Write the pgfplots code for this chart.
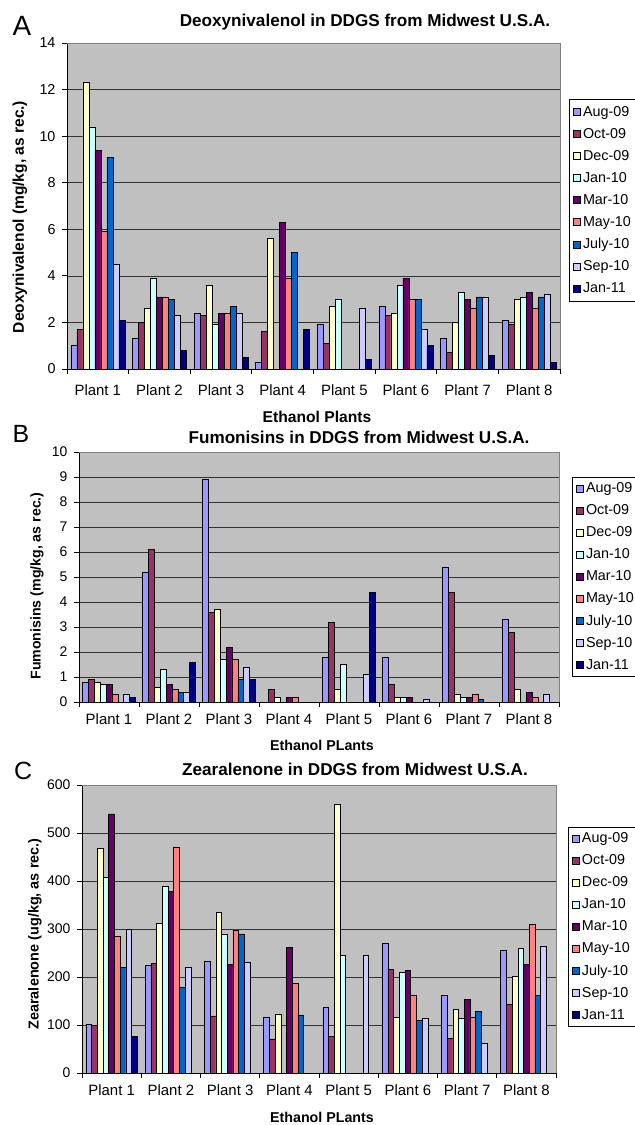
\documentclass[border=0pt]{standalone}
\usepackage{pgfplots}
\pgfplotsset{compat=1.18}
\usepackage{fontspec}
\setmainfont{Liberation Sans}
\definecolor{s1}{HTML}{9999FF}
\definecolor{s2}{HTML}{993366}
\definecolor{s3}{HTML}{FFFFCC}
\definecolor{s4}{HTML}{CCFFFF}
\definecolor{s5}{HTML}{660066}
\definecolor{s6}{HTML}{FF8080}
\definecolor{s7}{HTML}{0066CC}
\definecolor{s8}{HTML}{CCCCFF}
\definecolor{s9}{HTML}{000080}
\definecolor{plotbg}{HTML}{C0C0C0}
\pgfplotsset{
 panel/.style={
  scale only axis, anchor=north west,
  xmin=-0.5, xmax=7.5, ymin=0,
  ybar=0pt,
  axis background/.style={fill=plotbg},
  axis x line*=bottom, axis y line*=left,
  axis line style={black, line width=0.8pt, -},
  ymajorgrids, grid style={black!80, line width=0.7pt},
  xtick={-0.5,0.5,...,7.5}, xticklabels={},
  extra x ticks={0,1,...,7},
  extra x tick labels={Plant 1,Plant 2,Plant 3,Plant 4,Plant 5,Plant 6,Plant 7,Plant 8},
  tick align=outside, major tick length=5bp,
  tick style={black, line width=0.8pt},
  xticklabel style={font=\fontsize{15}{17}\selectfont},
  yticklabel style={font=\fontsize{14.4}{16}\selectfont, xshift=-3bp},
  /pgf/number format/assume math mode=true,
  every axis plot/.append style={draw=black, line width=0.6pt},
  legend cell align=left,
  legend image code/.code={\draw[##1] (0bp,-3.5bp) rectangle (7bp,3.5bp);},
  legend style={anchor=north west, draw=black, line width=0.8pt, font=\fontsize{14.4}{16}\selectfont, inner xsep=4bp, inner ysep=5bp, row sep=6.5bp},
  after end axis/.code={\draw[black!50, line width=1pt] (rel axis cs:0,1) -- (rel axis cs:1,1) -- (rel axis cs:1,0);},
 }
}
\begin{document}
\begin{tikzpicture}
\path[use as bounding box] (0,0) rectangle (635bp,-1125bp);
% ---------------- Panel A
\begin{axis}[panel, at={(67bp,-43bp)}, width=493bp, height=326bp,
  ymax=14, ytick={0,2,...,14}, bar width=6bp,
  extra x tick style={major tick length=0pt, xticklabel style={yshift=-12bp}},
  legend style={at={(1.0183,0.8282)}}]
\addplot[fill=s1] coordinates {(0,1.0)(1,1.3)(2,2.4)(3,0.3)(4,1.9)(5,2.7)(6,1.3)(7,2.1)};
\addplot[fill=s2] coordinates {(0,1.7)(1,2.0)(2,2.3)(3,1.6)(4,1.1)(5,2.3)(6,0.7)(7,1.9)};
\addplot[fill=s3] coordinates {(0,12.3)(1,2.6)(2,3.6)(3,5.6)(4,2.7)(5,2.4)(6,2.0)(7,3.0)};
\addplot[fill=s4] coordinates {(0,10.4)(1,3.9)(2,1.9)(4,3.0)(5,3.6)(6,3.3)(7,3.1)};
\addplot[fill=s5] coordinates {(0,9.4)(1,3.1)(2,2.4)(3,6.3)(5,3.9)(6,3.0)(7,3.3)};
\addplot[fill=s6] coordinates {(0,5.9)(1,3.1)(2,2.4)(3,3.9)(5,3.0)(6,2.6)(7,2.6)};
\addplot[fill=s7] coordinates {(0,9.1)(1,3.0)(2,2.7)(3,5.0)(5,3.0)(6,3.1)(7,3.1)};
\addplot[fill=s8] coordinates {(0,4.5)(1,2.3)(2,2.4)(4,2.6)(5,1.7)(6,3.1)(7,3.2)};
\addplot[fill=s9] coordinates {(0,2.1)(1,0.8)(2,0.5)(3,1.7)(4,0.4)(5,1.0)(6,0.6)(7,0.3)};
\legend{Aug-09,Oct-09,Dec-09,Jan-10,Mar-10,May-10,July-10,Sep-10,Jan-11}
\end{axis}
% ---------------- Panel B
\begin{axis}[panel, at={(79bp,-452bp)}, width=480bp, height=250bp,
  ymax=10, ytick={0,1,...,10}, bar width=5.9bp,
  yticklabel style={font=\fontsize{14}{16}\selectfont},
  extra x tick style={major tick length=0pt, xticklabel style={yshift=-8bp}},
  legend style={at={(1.0271,0.9)}, inner ysep=3.5bp}]
\addplot[fill=s1] coordinates {(0,0.8)(1,5.2)(2,8.9)(4,1.8)(5,1.8)(6,5.4)(7,3.3)};
\addplot[fill=s2] coordinates {(0,0.9)(1,6.1)(2,3.6)(3,0.5)(4,3.2)(5,0.7)(6,4.4)(7,2.8)};
\addplot[fill=s3] coordinates {(0,0.8)(1,0.6)(2,3.7)(3,0.2)(4,0.5)(5,0.2)(6,0.3)(7,0.5)};
\addplot[fill=s4] coordinates {(0,0.7)(1,1.3)(2,1.7)(4,1.5)(5,0.2)(6,0.2)};
\addplot[fill=s5] coordinates {(0,0.7)(1,0.7)(2,2.2)(3,0.2)(5,0.2)(6,0.2)(7,0.4)};
\addplot[fill=s6] coordinates {(0,0.3)(1,0.5)(2,1.7)(3,0.2)(6,0.3)(7,0.2)};
\addplot[fill=s7] coordinates {(1,0.4)(2,0.9)(6,0.1)};
\addplot[fill=s8] coordinates {(0,0.3)(1,0.4)(2,1.4)(4,1.1)(5,0.1)(7,0.3)};
\addplot[fill=s9] coordinates {(0,0.2)(1,1.6)(2,0.9)(4,4.4)};
\legend{Aug-09,Oct-09,Dec-09,Jan-10,Mar-10,May-10,July-10,Sep-10,Jan-11}
\end{axis}
% ---------------- Panel C
\begin{axis}[panel, at={(82bp,-785bp)}, width=474bp, height=288bp,
  ymax=600, ytick={0,100,...,600}, bar width=5.7bp,
  yticklabel style={font=\fontsize{14}{16}\selectfont},
  extra x tick style={major tick length=0pt, xticklabel style={yshift=-8bp}},
  legend style={at={(1.0253,0.8542)}, inner ysep=3.5bp}]
\addplot[fill=s1] coordinates {(0,102)(1,225)(2,233)(3,117)(4,136)(5,270)(6,162)(7,256)};
\addplot[fill=s2] coordinates {(0,100)(1,229)(2,119)(3,71)(4,76)(5,216)(6,72)(7,143)};
\addplot[fill=s3] coordinates {(0,468)(1,312)(2,335)(3,123)(4,560)(5,116)(6,133)(7,201)};
\addplot[fill=s4] coordinates {(0,407)(1,389)(2,290)(4,245)(5,209)(6,114)(7,260)};
\addplot[fill=s5] coordinates {(0,540)(1,378)(2,226)(3,262)(5,213)(6,153)(7,227)};
\addplot[fill=s6] coordinates {(0,285)(1,471)(2,298)(3,186)(5,162)(6,117)(7,309)};
\addplot[fill=s7] coordinates {(0,220)(1,178)(2,290)(3,120)(5,109)(6,129)(7,161)};
\addplot[fill=s8] coordinates {(0,299)(1,221)(2,230)(4,245)(5,113)(6,61)(7,263)};
\addplot[fill=s9] coordinates {(0,76)};
\legend{Aug-09,Oct-09,Dec-09,Jan-10,Mar-10,May-10,July-10,Sep-10,Jan-11}
\end{axis}
% ---------------- Texts
\node[font=\fontsize{28}{30}\selectfont] at (22bp,-26bp) {A};
\node[font=\fontsize{25}{28}\selectfont] at (21bp,-434bp) {B};
\node[font=\fontsize{25}{28}\selectfont] at (23bp,-771bp) {C};
\node[font=\bfseries\fontsize{17.2}{20}\selectfont] at (365bp,-22bp) {Deoxynivalenol in DDGS from Midwest U.S.A.};
\node[font=\bfseries\fontsize{17.2}{20}\selectfont] at (359bp,-437bp) {Fumonisins in DDGS from Midwest U.S.A.};
\node[font=\bfseries\fontsize{17.2}{20}\selectfont] at (355bp,-769bp) {Zearalenone in DDGS from Midwest U.S.A.};
\node[font=\bfseries\fontsize{15.7}{18}\selectfont] at (317bp,-417bp) {Ethanol Plants};
\node[font=\bfseries\fontsize{14.3}{17}\selectfont] at (322bp,-745bp) {Ethanol PLants};
\node[font=\bfseries\fontsize{14.3}{17}\selectfont] at (322bp,-1117bp) {Ethanol PLants};
\node[rotate=90, font=\bfseries\fontsize{15.6}{18}\selectfont] at (20bp,-217bp) {Deoxynivalenol (mg/kg, as rec.)};
\node[rotate=90, font=\bfseries\fontsize{14.2}{17}\selectfont] at (37bp,-586bp) {Fumonisins (mg/kg, as rec.)};
\node[rotate=90, font=\bfseries\fontsize{14.5}{17}\selectfont] at (35bp,-934bp) {Zearalenone (ug/kg, as rec.)};
\end{tikzpicture}
\end{document}
